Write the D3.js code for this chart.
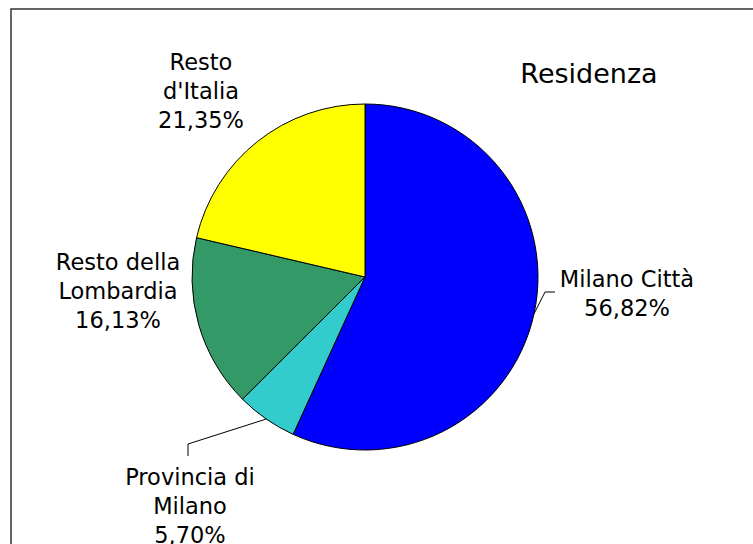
<!DOCTYPE html>
<html><head><meta charset="utf-8">
<script src="https://cdn.jsdelivr.net/npm/d3@7"></script>
<style>html,body{margin:0;padding:0;background:#fff;}svg{display:block;}</style>
</head><body>
<svg id="c" width="753" height="544"></svg>
<script>
const categories = ["Milano Città", "Provincia di Milano", "Resto della Lombardia", "Resto d'Italia"];
const values = [56.82, 5.70, 16.13, 21.35];
const valueLabels = ["56,82%", "5,70%", "16,13%", "21,35%"];
const labelLines = [["Milano Città"], ["Provincia di", "Milano"], ["Resto della", "Lombardia"], ["Resto", "d'Italia"]];
const colors = ["#0000FF", "#33CCCC", "#339966", "#FFFF00"];
const title = "Residenza";

const svg = d3.select("#c");
const font = "'DejaVu Sans', Verdana, sans-serif";
const cx = 365, cy = 277, R = 173;

svg.append("rect").attr("x", 11).attr("y", 9).attr("width", 800).attr("height", 600)
  .attr("fill", "#fff").attr("stroke", "#333").attr("stroke-width", 1.5);

const pie = d3.pie().sort(null).value(d => d);
const arcs = pie(values);
const arc = d3.arc().innerRadius(0).outerRadius(R);
const g = svg.append("g").attr("transform", `translate(${cx},${cy})`);
g.selectAll("path").data(arcs).join("path")
  .attr("d", arc).attr("fill", (d, i) => colors[i])
  .attr("stroke", "#000").attr("stroke-width", 1);

const layout = [
  {x: 627, y: 287, lead: [[545, 292], [555, 292]]},
  {x: 190, y: 485, lead: [[188, 444], [188, 456]]},
  {x: 118, y: 270, lead: null},
  {x: 201, y: 70, lead: null}
];
const lh = 29;
arcs.forEach((a, i) => {
  const L = layout[i];
  if (L.lead) {
    const m = (a.startAngle + a.endAngle) / 2;
    const p0 = [cx + R * Math.sin(m), cy - R * Math.cos(m)];
    svg.append("polyline").attr("points", [p0, ...L.lead].map(p => p.join(",")).join(" "))
      .attr("fill", "none").attr("stroke", "#000").attr("stroke-width", 1);
  }
  const lines = labelLines[i].concat([valueLabels[i]]);
  const t = svg.append("text").attr("text-anchor", "middle")
    .attr("font-family", font).attr("font-size", 22.5).attr("fill", "#000");
  lines.forEach((s, k) => t.append("tspan").attr("x", L.x).attr("y", L.y + k * lh).text(s));
});

svg.append("text").attr("x", 589).attr("y", 83).attr("text-anchor", "middle")
  .attr("font-family", font).attr("font-size", 27).attr("fill", "#000").text(title);
</script>
</body></html>
